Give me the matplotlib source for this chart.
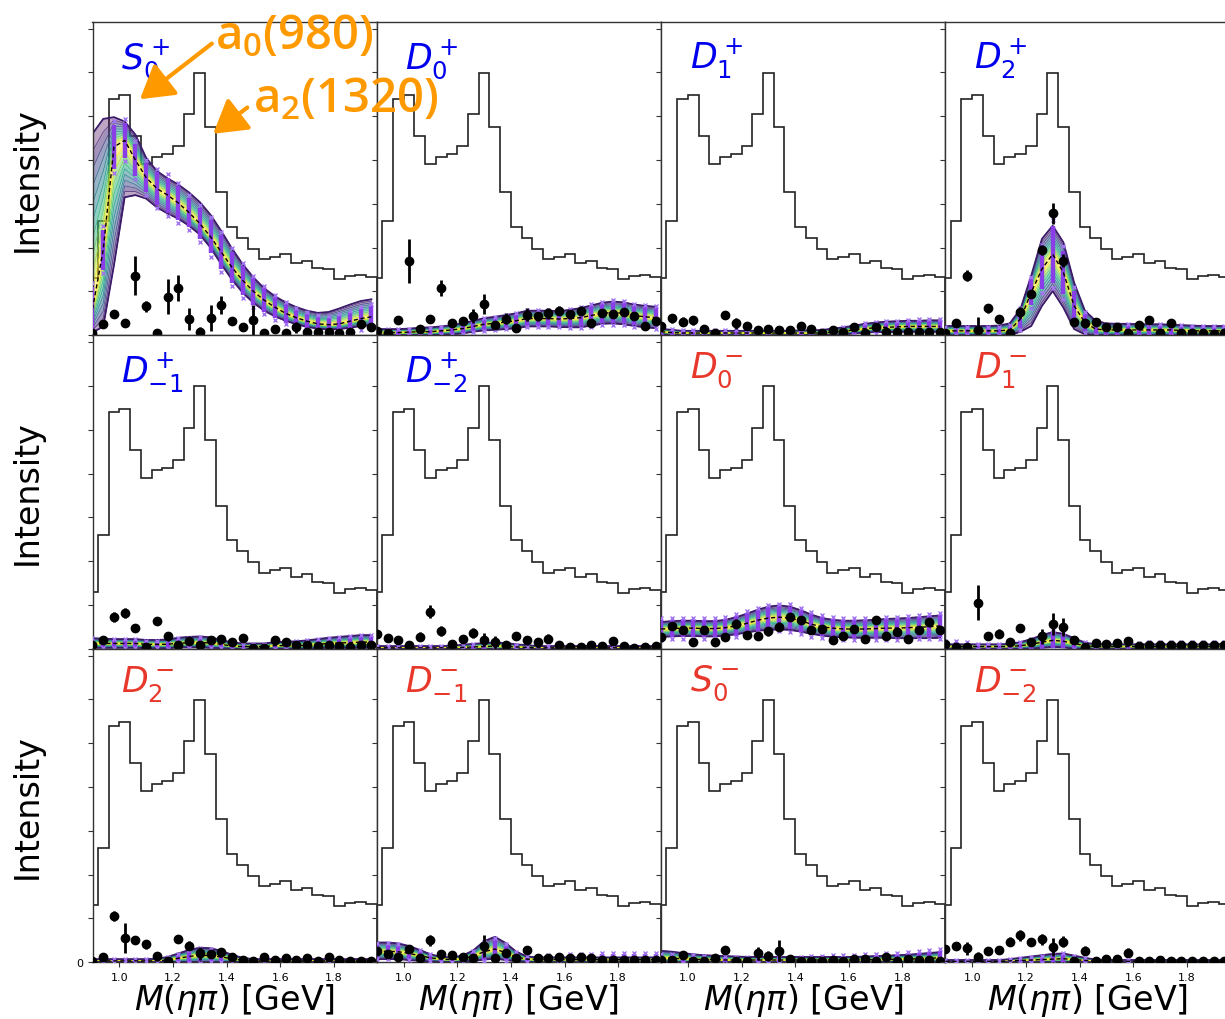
import numpy as np
import matplotlib
matplotlib.use('Agg')
import matplotlib.pyplot as plt

# only used by the a0/a2 annotations (math_fontfamily='custom')
plt.rcParams['mathtext.rm'] = 'Open Sans:semibold'
plt.rcParams['mathtext.it'] = 'DejaVu Sans:italic'
plt.rcParams['mathtext.bf'] = 'DejaVu Sans:bold'

# M(eta pi) binning, GeV
mass_edges = [0.88, 0.92, 0.96, 1.00, 1.04, 1.08, 1.12, 1.16, 1.20, 1.24, 1.28, 1.32, 1.36, 1.40,
              1.44, 1.48, 1.52, 1.56, 1.60, 1.64, 1.68, 1.72, 1.76, 1.80, 1.84, 1.88, 1.92, 1.96]
mass = [0.90, 0.94, 0.98, 1.02, 1.06, 1.10, 1.14, 1.18, 1.22, 1.26, 1.30, 1.34, 1.38, 1.42,
        1.46, 1.50, 1.54, 1.58, 1.62, 1.66, 1.70, 1.74, 1.78, 1.82, 1.86, 1.90, 1.94]

# total intensity (same histogram in every panel)
total = [1.30, 2.60, 5.40, 5.48, 4.54, 3.90, 4.08, 4.13, 4.31, 5.05, 5.99, 4.76, 3.27, 2.48,
         2.23, 1.98, 1.74, 1.79, 1.85, 1.64, 1.70, 1.53, 1.51, 1.28, 1.36, 1.38, 1.33]

# S0+
s0p_fit = [0.60, 1.95, 4.30, 4.45, 4.00, 3.60, 3.35, 3.20, 3.02, 2.80, 2.55, 2.25, 1.90, 1.55,
           1.25, 1.00, 0.80, 0.64, 0.50, 0.40, 0.32, 0.26, 0.24, 0.26, 0.32, 0.38, 0.42]
s0p_hi = [4.60, 4.94, 4.98, 4.88, 4.58, 4.05, 3.75, 3.58, 3.44, 3.26, 3.04, 2.75, 2.38, 1.98,
          1.62, 1.32, 1.07, 0.89, 0.75, 0.64, 0.56, 0.51, 0.53, 0.61, 0.70, 0.78, 0.82]
s0p_lo = [0.06, 0.20, 1.60, 3.15, 3.20, 3.12, 2.92, 2.78, 2.66, 2.50, 2.30, 2.00, 1.62, 1.27,
          0.97, 0.74, 0.56, 0.43, 0.33, 0.25, 0.19, 0.15, 0.13, 0.14, 0.17, 0.21, 0.23]
s0p_bar = [0.50, 0.45, 0.50, 0.40, 0.36, 0.34, 0.38, 0.40, 0.38, 0.33, 0.35, 0.38, 0.38, 0.36,
           0.33, 0.30, 0.27, 0.24, 0.21, 0.19, 0.17, 0.16, 0.16, 0.18, 0.20, 0.22, 0.24]
s0p_pts = [0.06, 0.25, 0.48, 0.29, 1.36, 0.66, 0.06, 0.88, 1.07, 0.37, 0.08, 0.40, 0.69, 0.33,
           0.19, 0.34, 0.06, 0.14, 0.06, 0.18, 0.08, 0.08, 0.08, 0.06, 0.08, 0.25, 0.18]
s0p_err = [0.05, 0.05, 0.05, 0.05, 0.45, 0.12, 0.05, 0.40, 0.30, 0.25, 0.10, 0.30, 0.20, 0.08,
           0.08, 0.35, 0.06, 0.05, 0.05, 0.12, 0.05, 0.05, 0.05, 0.05, 0.05, 0.08, 0.08]

# D0+
d0p_fit = [0.06, 0.06, 0.06, 0.07, 0.08, 0.08, 0.10, 0.12, 0.15, 0.20, 0.25, 0.27, 0.30, 0.33,
           0.38, 0.38, 0.38, 0.37, 0.38, 0.40, 0.45, 0.50, 0.52, 0.50, 0.45, 0.42, 0.40]
d0p_hi = [0.14, 0.14, 0.14, 0.15, 0.17, 0.18, 0.20, 0.23, 0.27, 0.33, 0.39, 0.42, 0.46, 0.50,
          0.56, 0.56, 0.56, 0.55, 0.58, 0.62, 0.68, 0.74, 0.77, 0.75, 0.70, 0.67, 0.65]
d0p_lo = [0.00, 0.00, 0.00, 0.00, 0.00, 0.00, 0.01, 0.02, 0.04, 0.08, 0.11, 0.12, 0.14, 0.16,
          0.20, 0.20, 0.20, 0.19, 0.18, 0.18, 0.22, 0.26, 0.27, 0.25, 0.21, 0.18, 0.16]
d0p_bar = [0.06, 0.06, 0.06, 0.06, 0.07, 0.07, 0.08, 0.09, 0.10, 0.11, 0.12, 0.13, 0.14, 0.15,
           0.16, 0.16, 0.16, 0.16, 0.18, 0.20, 0.21, 0.22, 0.23, 0.23, 0.22, 0.22, 0.22]
d0p_pts = [0.10, 0.05, 0.35, 1.70, 0.14, 0.37, 1.07, 0.27, 0.33, 0.44, 0.71, 0.24, 0.38, 0.16,
           0.47, 0.43, 0.50, 0.56, 0.48, 0.56, 0.27, 0.50, 0.48, 0.52, 0.43, 0.21, 0.33]
d0p_err = [0.05, 0.05, 0.07, 0.50, 0.06, 0.10, 0.18, 0.07, 0.07, 0.15, 0.22, 0.08, 0.12, 0.06,
           0.15, 0.10, 0.12, 0.10, 0.10, 0.10, 0.08, 0.08, 0.08, 0.08, 0.08, 0.08, 0.08]

# D1+
d1p_fit = [0.08, 0.06, 0.05, 0.05, 0.05, 0.05, 0.05, 0.05, 0.05, 0.05, 0.05, 0.05, 0.05, 0.05,
           0.05, 0.05, 0.07, 0.09, 0.12, 0.15, 0.17, 0.18, 0.19, 0.20, 0.20, 0.20, 0.20]
d1p_hi = [0.15, 0.12, 0.10, 0.10, 0.10, 0.10, 0.10, 0.10, 0.10, 0.10, 0.10, 0.10, 0.10, 0.11,
          0.11, 0.12, 0.15, 0.18, 0.22, 0.26, 0.29, 0.31, 0.32, 0.33, 0.33, 0.34, 0.34]
d1p_lo = [0.02, 0.01, 0.00, 0.00, 0.00, 0.00, 0.00, 0.00, 0.00, 0.00, 0.00, 0.00, 0.00, 0.00,
          0.00, 0.00, 0.01, 0.02, 0.04, 0.06, 0.07, 0.07, 0.08, 0.08, 0.08, 0.08, 0.08]
d1p_bar = [0.08, 0.07, 0.06, 0.06, 0.05, 0.05, 0.05, 0.05, 0.05, 0.05, 0.05, 0.05, 0.05, 0.05,
           0.05, 0.06, 0.07, 0.08, 0.09, 0.10, 0.11, 0.12, 0.12, 0.13, 0.14, 0.14, 0.14]
d1p_pts = [0.21, 0.39, 0.31, 0.34, 0.15, 0.05, 0.46, 0.27, 0.21, 0.12, 0.15, 0.11, 0.11, 0.20,
           0.14, 0.06, 0.11, 0.08, 0.18, 0.06, 0.18, 0.08, 0.08, 0.08, 0.08, 0.08, 0.08]
d1p_err = [0.05, 0.10, 0.10, 0.10, 0.05, 0.05, 0.06, 0.12, 0.05, 0.05, 0.06, 0.05, 0.05, 0.06,
           0.05, 0.05, 0.05, 0.05, 0.06, 0.05, 0.06, 0.05, 0.05, 0.05, 0.05, 0.05, 0.05]

# D2+
d2p_fit = [0.10, 0.10, 0.10, 0.10, 0.10, 0.10, 0.12, 0.37, 0.98, 1.51, 1.85, 1.43, 0.67, 0.29,
           0.14, 0.12, 0.12, 0.12, 0.12, 0.12, 0.12, 0.12, 0.11, 0.10, 0.10, 0.10, 0.10]
d2p_hi = [0.21, 0.21, 0.21, 0.21, 0.21, 0.22, 0.27, 0.60, 1.36, 2.20, 2.50, 2.12, 1.20, 0.56,
          0.33, 0.27, 0.26, 0.26, 0.25, 0.25, 0.25, 0.24, 0.23, 0.22, 0.21, 0.21, 0.21]
d2p_lo = [0.00, 0.00, 0.00, 0.00, 0.00, 0.00, 0.00, 0.08, 0.21, 0.67, 1.01, 0.63, 0.14, 0.02,
          0.00, 0.00, 0.00, 0.00, 0.00, 0.00, 0.00, 0.00, 0.00, 0.00, 0.00, 0.00, 0.00]
d2p_bar = [0.08, 0.08, 0.08, 0.08, 0.08, 0.08, 0.10, 0.20, 0.30, 0.45, 0.65, 0.50, 0.35, 0.20,
           0.12, 0.12, 0.12, 0.12, 0.12, 0.12, 0.12, 0.12, 0.10, 0.10, 0.10, 0.10, 0.10]
d2p_pts = [0.06, 0.29, 1.36, 0.12, 0.61, 0.37, 0.05, 0.52, 0.94, 1.95, 2.78, 1.70, 0.31, 0.27,
           0.31, 0.18, 0.18, 0.06, 0.23, 0.34, 0.06, 0.27, 0.05, 0.06, 0.06, 0.02, 0.05]
d2p_err = [0.05, 0.07, 0.12, 0.30, 0.10, 0.10, 0.05, 0.12, 0.10, 0.12, 0.25, 0.15, 0.08, 0.10,
           0.08, 0.06, 0.06, 0.05, 0.06, 0.08, 0.05, 0.08, 0.05, 0.05, 0.05, 0.05, 0.05]

# D-1+
dm1p_fit = [0.12, 0.12, 0.12, 0.12, 0.12, 0.10, 0.10, 0.10, 0.13, 0.13, 0.14, 0.13, 0.10, 0.06,
            0.05, 0.05, 0.05, 0.07, 0.07, 0.07, 0.08, 0.10, 0.12, 0.13, 0.14, 0.15, 0.15]
dm1p_hi = [0.24, 0.23, 0.22, 0.22, 0.22, 0.20, 0.20, 0.21, 0.25, 0.27, 0.28, 0.26, 0.20, 0.14,
           0.12, 0.12, 0.12, 0.15, 0.16, 0.17, 0.19, 0.22, 0.25, 0.27, 0.29, 0.31, 0.31]
dm1p_lo = [0.02, 0.02, 0.02, 0.02, 0.02, 0.01, 0.01, 0.01, 0.03, 0.03, 0.03, 0.02, 0.01, 0.00,
           0.00, 0.00, 0.00, 0.00, 0.00, 0.00, 0.00, 0.01, 0.02, 0.02, 0.02, 0.02, 0.02]
dm1p_bar = [0.10, 0.09, 0.08, 0.08, 0.08, 0.07, 0.07, 0.08, 0.09, 0.10, 0.10, 0.09, 0.07, 0.05,
            0.04, 0.04, 0.04, 0.06, 0.07, 0.08, 0.09, 0.10, 0.11, 0.12, 0.13, 0.13, 0.13]
dm1p_pts = [0.08, 0.21, 0.72, 0.82, 0.48, 0.05, 0.64, 0.28, 0.08, 0.18, 0.09, 0.21, 0.23, 0.15,
            0.25, 0.02, 0.02, 0.21, 0.15, 0.08, 0.08, 0.06, 0.08, 0.06, 0.05, 0.08, 0.08]
dm1p_err = [0.05, 0.05, 0.12, 0.12, 0.06, 0.05, 0.08, 0.10, 0.05, 0.06, 0.05, 0.08, 0.08, 0.06,
            0.06, 0.05, 0.05, 0.05, 0.05, 0.05, 0.05, 0.05, 0.05, 0.05, 0.05, 0.05, 0.05]

# D-2+
dm2p_fit = [0.02, 0.02, 0.02, 0.02, 0.02, 0.02, 0.02, 0.02, 0.03, 0.04, 0.05, 0.06, 0.05, 0.04,
            0.03, 0.02, 0.02, 0.02, 0.02, 0.02, 0.02, 0.02, 0.02, 0.02, 0.02, 0.02, 0.02]
dm2p_hi = [0.06, 0.06, 0.06, 0.06, 0.06, 0.06, 0.06, 0.07, 0.09, 0.11, 0.13, 0.14, 0.13, 0.10,
           0.08, 0.06, 0.06, 0.06, 0.06, 0.06, 0.06, 0.06, 0.06, 0.06, 0.06, 0.06, 0.06]
dm2p_lo = [0.00] * 27
dm2p_bar = [0.03, 0.03, 0.03, 0.03, 0.03, 0.03, 0.03, 0.03, 0.04, 0.05, 0.06, 0.06, 0.05, 0.04,
            0.03, 0.03, 0.03, 0.03, 0.03, 0.03, 0.03, 0.03, 0.03, 0.03, 0.03, 0.03, 0.03]
dm2p_pts = [0.34, 0.24, 0.21, 0.09, 0.27, 0.84, 0.40, 0.11, 0.23, 0.36, 0.21, 0.15, 0.08, 0.29,
            0.19, 0.15, 0.23, 0.09, 0.04, 0.04, 0.09, 0.06, 0.18, 0.06, 0.02, 0.04, 0.06]
dm2p_err = [0.05, 0.05, 0.08, 0.05, 0.10, 0.15, 0.12, 0.05, 0.06, 0.12, 0.15, 0.15, 0.05, 0.10,
            0.10, 0.10, 0.10, 0.05, 0.04, 0.04, 0.05, 0.04, 0.06, 0.04, 0.04, 0.04, 0.04]

# D0-
d0m_fit = [0.45, 0.46, 0.47, 0.47, 0.46, 0.46, 0.48, 0.52, 0.58, 0.65, 0.70, 0.72, 0.70, 0.64,
           0.56, 0.50, 0.47, 0.45, 0.45, 0.45, 0.46, 0.47, 0.47, 0.48, 0.49, 0.50, 0.52]
d0m_hi = [0.61, 0.63, 0.64, 0.64, 0.63, 0.63, 0.66, 0.72, 0.80, 0.89, 0.96, 0.99, 0.96, 0.88,
          0.78, 0.70, 0.66, 0.64, 0.64, 0.65, 0.66, 0.68, 0.69, 0.70, 0.72, 0.74, 0.76]
d0m_lo = [0.27, 0.28, 0.29, 0.29, 0.28, 0.28, 0.30, 0.33, 0.37, 0.41, 0.43, 0.44, 0.43, 0.39,
          0.34, 0.30, 0.27, 0.26, 0.25, 0.25, 0.25, 0.25, 0.24, 0.24, 0.24, 0.24, 0.25]
d0m_bar = [0.20, 0.20, 0.20, 0.20, 0.20, 0.20, 0.20, 0.22, 0.23, 0.24, 0.25, 0.26, 0.26, 0.25,
           0.24, 0.22, 0.21, 0.20, 0.20, 0.20, 0.21, 0.22, 0.22, 0.22, 0.23, 0.24, 0.25]
d0m_pts = [0.27, 0.51, 0.42, 0.15, 0.42, 0.15, 0.27, 0.57, 0.31, 0.29, 0.40, 0.50, 0.72, 0.66,
           0.42, 0.46, 0.19, 0.29, 0.46, 0.23, 0.65, 0.29, 0.38, 0.23, 0.42, 0.61, 0.42]
d0m_err = [0.05, 0.06, 0.06, 0.05, 0.05, 0.05, 0.05, 0.10, 0.06, 0.08, 0.10, 0.10, 0.08, 0.08,
           0.06, 0.06, 0.05, 0.05, 0.06, 0.05, 0.06, 0.05, 0.05, 0.05, 0.05, 0.05, 0.05]

# D1-
d1m_fit = [0.05, 0.05, 0.05, 0.05, 0.05, 0.05, 0.05, 0.07, 0.10, 0.15, 0.19, 0.17, 0.12, 0.07,
           0.05, 0.05, 0.05, 0.05, 0.05, 0.05, 0.05, 0.05, 0.05, 0.05, 0.05, 0.05, 0.05]
d1m_hi = [0.10, 0.10, 0.10, 0.10, 0.10, 0.10, 0.11, 0.15, 0.22, 0.31, 0.38, 0.34, 0.24, 0.14,
          0.10, 0.10, 0.10, 0.10, 0.10, 0.10, 0.10, 0.10, 0.10, 0.10, 0.10, 0.10, 0.11]
d1m_lo = [0.00, 0.00, 0.00, 0.00, 0.00, 0.00, 0.00, 0.00, 0.00, 0.02, 0.04, 0.03, 0.00, 0.00,
          0.00, 0.00, 0.00, 0.00, 0.00, 0.00, 0.00, 0.00, 0.00, 0.00, 0.00, 0.00, 0.00]
d1m_bar = [0.10, 0.10, 0.08, 0.05, 0.05, 0.05, 0.05, 0.06, 0.10, 0.15, 0.18, 0.16, 0.10, 0.06,
           0.05, 0.05, 0.05, 0.06, 0.07, 0.08, 0.09, 0.09, 0.09, 0.09, 0.09, 0.09, 0.09]
d1m_pts = [0.11, 0.04, 0.05, 1.05, 0.29, 0.34, 0.15, 0.47, 0.15, 0.28, 0.56, 0.50, 0.21, 0.04,
           0.13, 0.10, 0.14, 0.18, 0.06, 0.08, 0.08, 0.08, 0.08, 0.08, 0.08, 0.08, 0.08]
d1m_err = [0.05, 0.04, 0.04, 0.40, 0.10, 0.10, 0.05, 0.06, 0.05, 0.17, 0.25, 0.20, 0.06, 0.04,
           0.05, 0.05, 0.05, 0.06, 0.04, 0.04, 0.04, 0.04, 0.04, 0.04, 0.04, 0.04, 0.04]

# D2-
d2m_fit = [0.03, 0.03, 0.03, 0.03, 0.03, 0.03, 0.03, 0.05, 0.09, 0.13, 0.16, 0.15, 0.12, 0.08,
           0.05, 0.03, 0.03, 0.03, 0.03, 0.03, 0.03, 0.03, 0.03, 0.03, 0.03, 0.03, 0.03]
d2m_hi = [0.07, 0.07, 0.07, 0.07, 0.07, 0.07, 0.08, 0.12, 0.20, 0.28, 0.33, 0.32, 0.26, 0.17,
          0.10, 0.07, 0.07, 0.07, 0.07, 0.07, 0.07, 0.07, 0.07, 0.07, 0.07, 0.07, 0.07]
d2m_lo = [0.00] * 27
d2m_bar = [0.03, 0.03, 0.03, 0.03, 0.03, 0.03, 0.03, 0.05, 0.08, 0.12, 0.14, 0.13, 0.10, 0.07,
           0.04, 0.03, 0.03, 0.03, 0.03, 0.03, 0.03, 0.03, 0.03, 0.03, 0.03, 0.03, 0.03]
d2m_pts = [0.02, 0.11, 1.05, 0.55, 0.50, 0.41, 0.14, 0.02, 0.53, 0.38, 0.20, 0.19, 0.23, 0.11,
           0.06, 0.02, 0.13, 0.04, 0.09, 0.06, 0.09, 0.02, 0.12, 0.06, 0.02, 0.02, 0.02]
d2m_err = [0.03, 0.05, 0.12, 0.35, 0.06, 0.10, 0.10, 0.03, 0.06, 0.10, 0.15, 0.10, 0.10, 0.05,
           0.04, 0.03, 0.05, 0.03, 0.04, 0.03, 0.04, 0.03, 0.05, 0.03, 0.03, 0.03, 0.03]

# D-1-
dm1m_fit = [0.25, 0.25, 0.24, 0.20, 0.15, 0.10, 0.07, 0.06, 0.08, 0.14, 0.24, 0.30, 0.22, 0.12,
            0.07, 0.06, 0.06, 0.06, 0.06, 0.06, 0.06, 0.06, 0.06, 0.06, 0.06, 0.06, 0.06]
dm1m_hi = [0.45, 0.45, 0.43, 0.37, 0.28, 0.18, 0.12, 0.11, 0.15, 0.27, 0.48, 0.58, 0.44, 0.24,
           0.13, 0.11, 0.11, 0.11, 0.11, 0.11, 0.11, 0.11, 0.11, 0.11, 0.11, 0.11, 0.11]
dm1m_lo = [0.07, 0.07, 0.07, 0.05, 0.03, 0.02, 0.01, 0.00, 0.01, 0.03, 0.06, 0.08, 0.05, 0.02,
           0.01, 0.00, 0.00, 0.00, 0.00, 0.00, 0.00, 0.00, 0.00, 0.00, 0.00, 0.00, 0.00]
dm1m_bar = [0.15, 0.15, 0.14, 0.12, 0.10, 0.07, 0.05, 0.05, 0.06, 0.10, 0.18, 0.22, 0.16, 0.09,
            0.06, 0.06, 0.08, 0.09, 0.10, 0.10, 0.11, 0.12, 0.12, 0.12, 0.12, 0.12, 0.12]
dm1m_pts = [0.25, 0.18, 0.11, 0.31, 0.09, 0.50, 0.19, 0.16, 0.12, 0.09, 0.37, 0.09, 0.22, 0.09,
            0.28, 0.09, 0.09, 0.11, 0.09, 0.13, 0.09, 0.06, 0.06, 0.06, 0.06, 0.06, 0.06]
dm1m_err = [0.06, 0.05, 0.05, 0.06, 0.05, 0.12, 0.06, 0.05, 0.05, 0.05, 0.25, 0.05, 0.06, 0.05,
            0.06, 0.05, 0.04, 0.04, 0.04, 0.04, 0.04, 0.04, 0.04, 0.04, 0.04, 0.04, 0.04]

# S0-
s0m_fit = [0.10, 0.09, 0.08, 0.07, 0.06, 0.06, 0.05, 0.05, 0.05, 0.05, 0.05, 0.05, 0.05, 0.05,
           0.05, 0.05, 0.05, 0.05, 0.05, 0.05, 0.06, 0.06, 0.07, 0.07, 0.08, 0.09, 0.10]
s0m_hi = [0.26, 0.24, 0.21, 0.18, 0.16, 0.15, 0.14, 0.13, 0.12, 0.12, 0.12, 0.12, 0.12, 0.12,
          0.12, 0.12, 0.12, 0.12, 0.12, 0.13, 0.14, 0.15, 0.16, 0.17, 0.19, 0.21, 0.23]
s0m_lo = [0.00] * 27
s0m_bar = [0.08, 0.08, 0.08, 0.07, 0.07, 0.07, 0.07, 0.06, 0.06, 0.06, 0.06, 0.06, 0.06, 0.06,
           0.07, 0.08, 0.09, 0.10, 0.10, 0.11, 0.11, 0.12, 0.12, 0.13, 0.14, 0.15, 0.16]
s0m_pts = [0.06, 0.06, 0.16, 0.03, 0.03, 0.10, 0.28, 0.03, 0.03, 0.20, 0.14, 0.25, 0.07, 0.03,
           0.03, 0.03, 0.06, 0.03, 0.08, 0.07, 0.03, 0.12, 0.03, 0.08, 0.06, 0.06, 0.03]
s0m_err = [0.03, 0.03, 0.06, 0.03, 0.03, 0.04, 0.05, 0.03, 0.03, 0.15, 0.12, 0.25, 0.04, 0.03,
           0.03, 0.03, 0.03, 0.03, 0.03, 0.03, 0.03, 0.03, 0.03, 0.03, 0.03, 0.03, 0.03]

# D-2-
dm2m_fit = [0.02, 0.02, 0.02, 0.02, 0.02, 0.02, 0.03, 0.04, 0.05, 0.06, 0.07, 0.08, 0.06, 0.04,
            0.03, 0.02, 0.02, 0.02, 0.02, 0.02, 0.02, 0.02, 0.02, 0.02, 0.02, 0.02, 0.02]
dm2m_hi = [0.05, 0.05, 0.05, 0.05, 0.05, 0.05, 0.07, 0.10, 0.13, 0.16, 0.19, 0.20, 0.15, 0.10,
           0.06, 0.05, 0.05, 0.05, 0.05, 0.05, 0.05, 0.05, 0.05, 0.05, 0.05, 0.05, 0.05]
dm2m_lo = [0.00] * 27
dm2m_bar = [0.02, 0.02, 0.02, 0.02, 0.02, 0.02, 0.03, 0.04, 0.05, 0.07, 0.09, 0.10, 0.07, 0.04,
            0.03, 0.03, 0.03, 0.03, 0.03, 0.03, 0.03, 0.03, 0.03, 0.03, 0.03, 0.03, 0.03]
dm2m_pts = [0.30, 0.36, 0.32, 0.12, 0.26, 0.29, 0.47, 0.61, 0.45, 0.52, 0.35, 0.47, 0.02, 0.26,
            0.03, 0.07, 0.08, 0.22, 0.02, 0.03, 0.04, 0.03, 0.03, 0.03, 0.03, 0.03, 0.03]
dm2m_err = [0.05, 0.05, 0.15, 0.12, 0.05, 0.06, 0.10, 0.12, 0.06, 0.12, 0.20, 0.12, 0.03, 0.10,
            0.03, 0.04, 0.04, 0.10, 0.03, 0.03, 0.03, 0.03, 0.03, 0.03, 0.03, 0.03, 0.03]

BLUE = '#0000ee'
RED = '#e8382b'
ORANGE = '#ff9900'

panels = [
    [(r'$S_0^+$', BLUE, s0p_fit, s0p_lo, s0p_hi, s0p_bar, s0p_pts, s0p_err),
     (r'$D_0^+$', BLUE, d0p_fit, d0p_lo, d0p_hi, d0p_bar, d0p_pts, d0p_err),
     (r'$D_1^+$', BLUE, d1p_fit, d1p_lo, d1p_hi, d1p_bar, d1p_pts, d1p_err),
     (r'$D_2^+$', BLUE, d2p_fit, d2p_lo, d2p_hi, d2p_bar, d2p_pts, d2p_err)],
    [(r'$D_{-1}^+$', BLUE, dm1p_fit, dm1p_lo, dm1p_hi, dm1p_bar, dm1p_pts, dm1p_err),
     (r'$D_{-2}^+$', BLUE, dm2p_fit, dm2p_lo, dm2p_hi, dm2p_bar, dm2p_pts, dm2p_err),
     (r'$D_0^-$', RED, d0m_fit, d0m_lo, d0m_hi, d0m_bar, d0m_pts, d0m_err),
     (r'$D_1^-$', RED, d1m_fit, d1m_lo, d1m_hi, d1m_bar, d1m_pts, d1m_err)],
    [(r'$D_2^-$', RED, d2m_fit, d2m_lo, d2m_hi, d2m_bar, d2m_pts, d2m_err),
     (r'$D_{-1}^-$', RED, dm1m_fit, dm1m_lo, dm1m_hi, dm1m_bar, dm1m_pts, dm1m_err),
     (r'$S_0^-$', RED, s0m_fit, s0m_lo, s0m_hi, s0m_bar, s0m_pts, s0m_err),
     (r'$D_{-2}^-$', RED, dm2m_fit, dm2m_lo, dm2m_hi, dm2m_bar, dm2m_pts, dm2m_err)],
]


def draw_panel(ax, fit, lo, hi, bar, pts, err):
    fit, lo, hi, bar = map(np.asarray, (fit, lo, hi, bar))
    ax.stairs(total, mass_edges, color='#222222', lw=1.2, baseline=0, zorder=1)

    # nested band: dark purple rings outside -> yellow next to the centre line
    n = 10
    for j in range(n):
        f_out = 1 - j / n
        f_in = 1 - (j + 1) / n
        c = plt.cm.viridis(j / (n - 1))
        a = 0.35 if j == 0 else 0.5
        ax.fill_between(mass, fit + f_in * (hi - fit), fit + f_out * (hi - fit),
                        color=c, alpha=a, lw=0, zorder=2)
        ax.fill_between(mass, fit - f_out * (fit - lo), fit - f_in * (fit - lo),
                        color=c, alpha=a, lw=0, zorder=2)
        ax.plot(mass, fit + f_out * (hi - fit), color=c, lw=0.6, alpha=0.8, zorder=2)
        ax.plot(mass, fit - f_out * (fit - lo), color=c, lw=0.6, alpha=0.8, zorder=2)
    ax.plot(mass, hi, color='#3b1c6b', lw=1.3, zorder=2)
    ax.plot(mass, lo, color='#3b1c6b', lw=1.3, zorder=2)

    ax.vlines(mass, fit - bar, fit + bar, color='#8a3ee8', lw=3.2, zorder=3)
    ax.plot(mass, fit + 1.2 * bar, 'x', color='#a274f2', ms=3.5, mew=1.0, zorder=3)
    ax.plot(mass, fit - 1.2 * bar, 'x', color='#a274f2', ms=3.5, mew=1.0, zorder=3)
    ax.plot(mass, fit, '--', color='black', lw=1.0, dashes=(3, 2), zorder=4)

    ax.errorbar(mass, pts, yerr=err, fmt='o', color='black', ms=6,
                elinewidth=2.0, capsize=0, zorder=5)


fig = plt.figure(figsize=(12.25, 10.2), dpi=100)
W, H = 1225.0, 1020.0
col_left = [92.5, 376.8, 661.1, 945.4]
row_top = [22.7, 336.2, 649.7]
pw, ph = 284.3, 313.5

axes = []
for r in range(3):
    row_axes = []
    for c in range(4):
        ax = fig.add_axes([col_left[c] / W, 1 - (row_top[r] + ph) / H, pw / W, ph / H])
        label, colour, fit, lo, hi, bar, pts, err = panels[r][c]
        draw_panel(ax, fit, lo, hi, bar, pts, err)
        ax.set_xlim(0.9, 1.96)
        ax.set_ylim(0, 7.16)
        ax.set_yticks(range(8))
        ax.set_xticks([1.0, 1.2, 1.4, 1.6, 1.8])
        ax.tick_params(direction='out', length=3.5, width=0.8, labelsize=8, color='#333333')
        if r == 2 and c == 0:
            ax.set_yticklabels(['0'] + [''] * 7)
        else:
            ax.set_yticklabels([])
        if r == 2:
            ax.set_xticklabels(['1.0', '1.2', '1.4', '1.6', '1.8'])
            ax.set_xlabel(r'$M(\eta\pi)$ [GeV]', fontsize=24, va='center')
            ax.xaxis.set_label_coords(0.5, -0.118)
        else:
            ax.set_xticklabels([])
        if c == 0:
            ax.set_ylabel('Intensity', fontsize=24, va='center')
            ax.yaxis.set_label_coords(-0.23, 0.5)
        for sp in ax.spines.values():
            sp.set_color('#333333')
            sp.set_linewidth(1.0)
        ax.text(0.1, 0.955, label, transform=ax.transAxes, fontsize=25,
                color=colour, ha='left', va='top', zorder=6)
        row_axes.append(ax)
    axes.append(row_axes)

# resonance annotations on S0+, drawn from the last axes so they sit on top
ax0 = axes[0][0]
top_ax = axes[2][3]
arrow_kw = dict(arrowstyle='-|>,head_length=0.5,head_width=0.3', color=ORANGE,
                lw=3.0, mutation_scale=40, shrinkA=0, shrinkB=0)
top_ax.annotate('', xy=(1.077, 5.39), xycoords=ax0.transData,
                xytext=(1.345, 6.66), textcoords=ax0.transData,
                arrowprops=arrow_kw, annotation_clip=False)
top_ax.annotate('', xy=(1.350, 4.60), xycoords=ax0.transData,
                xytext=(1.477, 5.20), textcoords=ax0.transData,
                arrowprops=arrow_kw, annotation_clip=False)
top_ax.annotate(r'a$_\mathrm{0}$(980)', xy=(1.357, 6.54), xycoords=ax0.transData,
                fontsize=34, family='Open Sans', fontweight='semibold', math_fontfamily='custom',
                color=ORANGE, ha='left', va='baseline', annotation_clip=False)
top_ax.annotate(r'a$_\mathrm{2}$(1320)', xy=(1.498, 5.12), xycoords=ax0.transData,
                fontsize=34, family='Open Sans', fontweight='semibold', math_fontfamily='custom',
                color=ORANGE, ha='left', va='baseline', annotation_clip=False)

fig.savefig('out.png', dpi=100)
